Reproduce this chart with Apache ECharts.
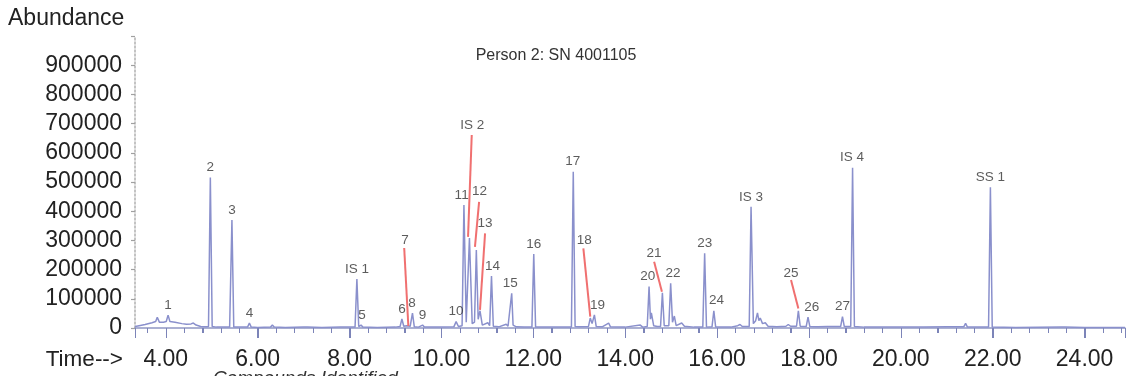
<!DOCTYPE html>
<html>
<head>
<meta charset="utf-8">
<script src="https://cdn.jsdelivr.net/npm/echarts@6/dist/echarts.min.js"></script>
<style>
html,body{margin:0;padding:0;background:#fff;}
#chart{width:1128px;height:376px;}
</style>
</head>
<body>
<div id="chart"></div>
<script>
// Retention time (min) and abundance of the chromatogram trace
const retentionTime = [
  3.33, 3.42, 3.55, 3.70, 3.78, 3.815, 3.86, 3.95, 4.01, 4.05, 4.09, 4.20, 4.35, 4.45, 4.55, 4.60, 4.66, 4.76,
  4.88, 4.93, 4.97, 5.01, 5.10, 5.20, 5.23, 5.26, 5.39, 5.44, 5.48, 5.60, 5.78, 5.82, 5.86, 6.00, 6.28, 6.32, 6.36,
  6.60, 7.00, 7.04, 7.08, 7.40, 7.80, 8.12, 8.16, 8.20, 8.25, 8.29, 8.60, 9.00, 9.10, 9.14, 9.18, 9.24, 9.28, 9.32,
  9.37, 9.41, 9.50, 9.59, 9.63, 10.00, 10.27, 10.32, 10.37, 10.45, 10.49, 10.54, 10.61, 10.67, 10.72, 10.76, 10.80,
  10.84, 10.89, 11.01, 11.05, 11.09, 11.13, 11.25, 11.41, 11.45, 11.53, 11.56, 11.58, 11.63, 11.80, 11.97, 12.01,
  12.05, 12.40, 12.83, 12.87, 12.91, 13.00, 13.20, 13.24, 13.28, 13.33, 13.37, 13.50, 13.64, 13.68, 14.00, 14.33,
  14.38, 14.48, 14.52, 14.55, 14.57, 14.62, 14.70, 14.77, 14.81, 14.85, 14.95, 14.99, 15.03, 15.07, 15.11, 15.23,
  15.29, 15.50, 15.69, 15.73, 15.77, 15.89, 15.93, 15.97, 16.30, 16.45, 16.50, 16.55, 16.70, 16.74, 16.79, 16.84,
  16.88, 16.91, 16.94, 16.99, 17.05, 17.11, 17.30, 17.50, 17.55, 17.60, 17.73, 17.77, 17.81, 17.94, 17.98, 18.02,
  18.20, 18.40, 18.69, 18.73, 18.77, 18.91, 18.95, 18.99, 19.20, 19.80, 20.50, 21.00, 21.37, 21.41, 21.45, 21.91,
  21.95, 21.99, 22.50, 23.49, 23.53, 23.57, 24.00, 24.88
];
const abundance = [
  5000, 8000, 12000, 18000, 22000, 37000, 20000, 20000, 22000, 44000, 22000, 20000, 15000, 13000, 14000, 17000, 10000, 5000,
  4000, 5000, 515000, 5000, 3000, 3000, 8000, 3000, 3000, 370000, 3000, 3000, 3000, 17000, 3000, 2000, 3000, 10000, 3000,
  2000, 3000, 6000, 3000, 2000, 3000, 3000, 168000, 5000, 10000, 3000, 2000, 3000, 5000, 31000, 6000, 8000, 12000, 6000,
  51000, 4000, 3000, 10000, 3000, 3000, 4000, 22000, 5000, 8000, 421000, 20000, 308000, 15000, 20000, 267000, 30000,
  59000, 10000, 18000, 8000, 178000, 6000, 4000, 13000, 6000, 119000, 10000, 15000, 4000, 3000, 3000, 253000,
  3000, 3000, 3000, 535000, 5000, 4000, 5000, 34000, 15000, 45000, 5000, 4000, 17000, 4000, 3000, 10000,
  3000, 5000, 142000, 30000, 52000, 8000, 5000, 5000, 121000, 8000, 8000, 153000, 20000, 41000, 8000, 17000,
  6000, 3000, 3000, 256000, 3000, 4000, 59000, 3000, 3000, 8000, 12000, 5000, 5000, 415000, 15000, 25000,
  52000, 25000, 34000, 15000, 18000, 6000, 4000, 6000, 12000, 6000, 6000, 59000, 6000, 5000, 37000, 5000,
  4000, 5000, 5000, 39000, 5000, 5000, 549000, 5000, 3000, 3000, 3000, 4000, 4000, 16000, 3000, 3000,
  482000, 3000, 2000, 3000, 8000, 3000, 2000, 2000
];

// Peak labels placed directly above their peaks
const peakNames  = ['1', '2', '3', '4', 'IS 1', '5', '6', '8', '9', '10', '11', '14', '15', '16', '17', '19', '20', '22', '23', '24', 'IS 3', '26', '27', 'IS 4', 'SS 1'];
const peakRt     = [4.05, 4.97, 5.44, 5.82, 8.16, 8.27, 9.14, 9.36, 9.59, 10.32, 10.44, 11.11, 11.50, 12.01, 12.86, 13.40, 14.49, 15.04, 15.73, 15.99, 16.74, 18.06, 18.73, 18.94, 21.95];
const peakHeight = [44000, 515000, 370000, 17000, 168000, 10000, 31000, 51000, 10000, 22000, 421000, 178000, 119000, 253000, 535000, 45000, 142000, 153000, 256000, 59000, 415000, 37000, 39000, 549000, 482000];

// Peak labels connected to their peak by a red leader line
const leaderNames     = ['7', 'IS 2', '12', '13', '18', '21', '25'];
const leaderLabelRt   = [9.21, 10.67, 10.83, 10.95, 13.11, 14.63, 17.61];
const leaderLabelAbun = [301000, 695000, 467000, 358000, 301000, 256000, 187000];
const leaderFromRt    = [9.19, 10.66, 10.82, 10.95, 13.09, 14.63, 17.61];
const leaderFromAbun  = [274000, 661000, 432000, 324000, 273000, 227000, 164000];
const leaderToRt      = [9.28, 10.58, 10.73, 10.84, 13.24, 14.80, 17.77];
const leaderToAbun    = [7000, 312000, 278000, 62000, 39000, 124000, 67000];

// Axis ticks
const timeLabels = [4, 6, 8, 10, 12, 14, 16, 18, 20, 22, 24];
const minorTimeTicks = [];
for (let k = 9; k <= 62; k++) minorTimeTicks.push(+(k * 0.4).toFixed(2));
const titleText = 'Person 2: SN 4001105';

const FONT = '"Liberation Sans", Arial, Helvetica, sans-serif';
const TRACE = '#8a90cc';
const RED = '#f07070';
const TICK = '#7c84b8';

const chart = echarts.init(document.getElementById('chart'), null, {renderer: 'canvas'});

const traceData = retentionTime.map((t, i) => [t, abundance[i]]);
const peakData = peakNames.map((n, i) => ({name: n, value: [peakRt[i], peakHeight[i]]}));
const leaderLabelData = leaderNames.map((n, i) => ({name: n, value: [leaderLabelRt[i], leaderLabelAbun[i]]}));
const leaderLines = leaderNames.map((n, i) => ({coords: [[leaderFromRt[i], leaderFromAbun[i]], [leaderToRt[i], leaderToAbun[i]]]}));
const isMajor = t => timeLabels.some(m => Math.abs(m - t) < 1e-6);

const XMIN = 3.33, XMAX = 24.88;

const baseGraphics = [
  {type: 'text', left: 8, top: 7, style: {text: 'Abundance', fontSize: 23, fill: '#222', fontFamily: FONT}},
  {type: 'text', x: 123, y: 360, style: {text: 'Time-->', fontSize: 22.5, fill: '#222', fontFamily: FONT, textAlign: 'right', textVerticalAlign: 'middle'}},
  {type: 'text', x: 556, y: 56, style: {text: titleText, fontSize: 16, fill: '#333', fontFamily: FONT, textAlign: 'center', textVerticalAlign: 'middle'}},
  {type: 'text', x: 213, y: 369, style: {text: 'Compounds Identified', fontSize: 19, fill: '#333', fontFamily: FONT, fontStyle: 'italic'}}
];

chart.setOption({
  animation: false,
  backgroundColor: '#fff',
  textStyle: {fontFamily: FONT},
  grid: {left: 135, right: 3, top: 36, bottom: 48, containLabel: false},
  xAxis: {
    type: 'value', min: XMIN, max: XMAX,
    // no fixed interval: the nice 2-minute step is aligned to multiples of 2 by ECharts itself
    splitNumber: 11, minInterval: 2, maxInterval: 2,
    axisLine: {show: true, lineStyle: {color: '#9096c4', width: 1.5}},
    axisTick: {show: true, length: 10, lineStyle: {color: TICK, width: 1}},
    minorTick: {show: true, splitNumber: 5, length: 5, lineStyle: {color: TICK, width: 1}},
    axisLabel: {
      show: true, showMinLabel: false, showMaxLabel: false,
      formatter: v => (timeLabels.some(m => Math.abs(m - v) < 1e-6) ? v.toFixed(2) : ''),
      fontSize: 23, color: '#222', margin: 20, fontFamily: FONT
    },
    splitLine: {show: false},
    minorSplitLine: {show: false}
  },
  yAxis: {
    type: 'value', min: 0, max: 1000000, interval: 100000,
    axisLine: {show: true, lineStyle: {color: '#b0b0b0', width: 1.5, type: [2, 2]}},
    axisTick: {show: true, length: 4, lineStyle: {color: '#a0a0a0', width: 1.2}},
    axisLabel: {formatter: v => (v >= 1000000 ? '' : String(v)), fontSize: 23, color: '#222', margin: 13, fontFamily: FONT},
    splitLine: {show: false}
  },
  graphic: baseGraphics,
  series: [
    {
      type: 'line', data: traceData, showSymbol: false, symbol: 'none',
      lineStyle: {color: TRACE, width: 1.5}, z: 3
    },
    {
      type: 'lines', coordinateSystem: 'cartesian2d', data: leaderLines,
      lineStyle: {color: RED, width: 2, opacity: 1, curveness: 0}, z: 4, silent: true
    },
    {
      type: 'scatter', data: peakData, symbolSize: 0, z: 5,
      label: {show: true, position: 'top', distance: 3, formatter: p => p.name, fontSize: 13.5, color: '#333', fontFamily: FONT}
    },
    {
      type: 'scatter', data: leaderLabelData, symbolSize: 0, z: 5,
      label: {show: true, position: 'inside', formatter: p => p.name, fontSize: 13.5, color: '#333', fontFamily: FONT}
    }
  ]
});

// Backup tick marks at the same positions, placed through the chart's own x scale
let ticksDrawn = false;
function drawTicks() {
  if (ticksDrawn) return;
  const tickGraphics = [];
  minorTimeTicks.forEach(t => {
    const p = chart.convertToPixel({seriesIndex: 0}, [t, 0]);
    if (!p || !isFinite(p[0]) || !isFinite(p[1])) return;
    const len = isMajor(t) ? 10 : 5;
    const x = Math.round(p[0]) + 0.5;
    tickGraphics.push({type: 'line', silent: true, z: 10, shape: {x1: x, y1: p[1], x2: x, y2: p[1] + len}, style: {stroke: TICK, lineWidth: 1}});
  });
  if (!tickGraphics.length) return;
  ticksDrawn = true;
  chart.setOption({graphic: baseGraphics.concat(tickGraphics)});
}
drawTicks();
chart.on('finished', drawTicks);
</script>
</body>
</html>
